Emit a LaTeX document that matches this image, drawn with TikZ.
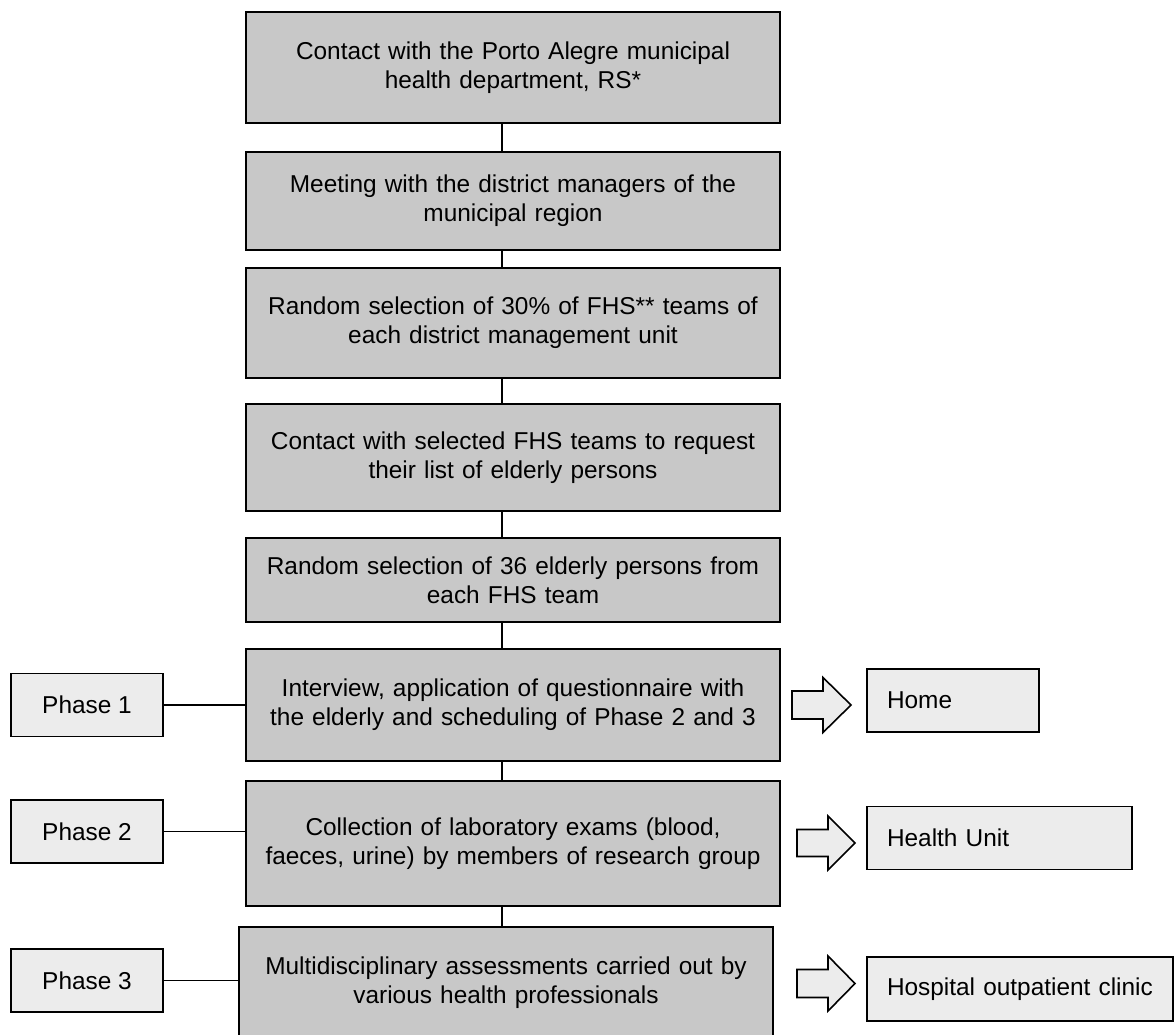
\documentclass[tikz,border=0pt]{standalone}
\usepackage{fontspec}
\setmainfont{Liberation Sans}
\usepackage{tikz}

\definecolor{boxgray}{RGB}{200,200,200}
\definecolor{boxlight}{RGB}{236,236,236}

\begin{document}
\begin{tikzpicture}[x=1pt, y=-1pt,
    stepbox/.style={draw, line width=1.6pt, fill=boxgray, align=center,
      text width=534pt, inner xsep=0pt, inner ysep=0pt,
      font=\fontsize{24.4}{29}\selectfont},
    phasebox/.style={draw, line width=1.6pt, fill=boxlight,
      minimum width=152pt, minimum height=63pt,
      font=\fontsize{24.4}{29}\selectfont},
    placebox/.style={draw, line width=1.6pt, fill=boxlight, align=left,
      inner xsep=20pt, inner ysep=0pt, minimum height=63pt,
      font=\fontsize{24.4}{29}\selectfont},
    link/.style={line width=1.3pt},
    bigarrow/.style={draw, line width=1.6pt, fill=boxlight, line join=miter}]

    \useasboundingbox (0, 0) rectangle (1175, 1034);
    \coordinate (spine) at (502, 0);

    \node[stepbox, minimum height=111pt] (s1) at (513, 67.5)
      {Contact with the Porto Alegre municipal\\ health department, RS*};
    \node[stepbox, minimum height=98pt] (s2) at (513, 201)
      {Meeting with the district managers of the\\ municipal region};
    \node[stepbox, minimum height=110pt] (s3) at (513, 323)
      {Random selection of 30\% of FHS** teams of\\ each district management unit};
    \node[stepbox, minimum height=107pt] (s4) at (513, 457.5)
      {Contact with selected FHS teams to request\\ their list of elderly persons};
    \node[stepbox, minimum height=84pt] (s5) at (513, 580)
      {Random selection of 36 elderly persons from\\ each FHS team};
    \node[stepbox, minimum height=112pt] (s6) at (513, 705)
      {Interview, application of questionnaire with\\ the elderly and scheduling of Phase 2 and 3};
    \node[stepbox, minimum height=125pt] (s7) at (513, 843.5)
      {Collection of laboratory exams (blood,\\ faeces, urine) by members of research group};
    \node[stepbox, minimum height=112pt] (s8) at (506, 983)
      {Multidisciplinary assessments carried out by\\ various health professionals};

    \draw[link] (s1.south -| spine) -- (s2.north -| spine);
    \draw[link] (s2.south -| spine) -- (s3.north -| spine);
    \draw[link] (s3.south -| spine) -- (s4.north -| spine);
    \draw[link] (s4.south -| spine) -- (s5.north -| spine);
    \draw[link] (s5.south -| spine) -- (s6.north -| spine);
    \draw[link] (s6.south -| spine) -- (s7.north -| spine);
    \draw[link] (s7.south -| spine) -- (s8.north -| spine);

    \node[phasebox] (p1) at (87, 705) {Phase 1};
    \node[phasebox] (p2) at (87, 831.5) {Phase 2};
    \node[phasebox] (p3) at (87, 980.5) {Phase 3};

    \draw[link] (p1.east) -- (p1.east -| s6.west);
    \draw[link] (p2.east) -- (p2.east -| s7.west);
    \draw[link] (p3.east) -- (p3.east -| s8.west);

    \draw[bigarrow] (792, 691) -- (823, 691) -- (823, 677.5) -- (851, 705)
      -- (823, 732.5) -- (823, 719) -- (792, 719) -- cycle;
    \draw[bigarrow] (797, 829.5) -- (828, 829.5) -- (828, 816) -- (855, 843)
      -- (828, 870) -- (828, 856.5) -- (797, 856.5) -- cycle;
    \draw[bigarrow] (797, 969.5) -- (828, 969.5) -- (828, 956) -- (855, 983.5)
      -- (828, 1011) -- (828, 997.5) -- (797, 997.5) -- cycle;

    \node[placebox, text width=132pt] (home) at (953, 700.5) {Home};
    \node[placebox, text width=225pt] (unit) at (999.5, 838) {Health Unit};
    \node[placebox, text width=266pt, minimum height=64pt] (clinic) at (1020, 989)
      {Hospital outpatient clinic};
  \end{tikzpicture}
\end{document}
